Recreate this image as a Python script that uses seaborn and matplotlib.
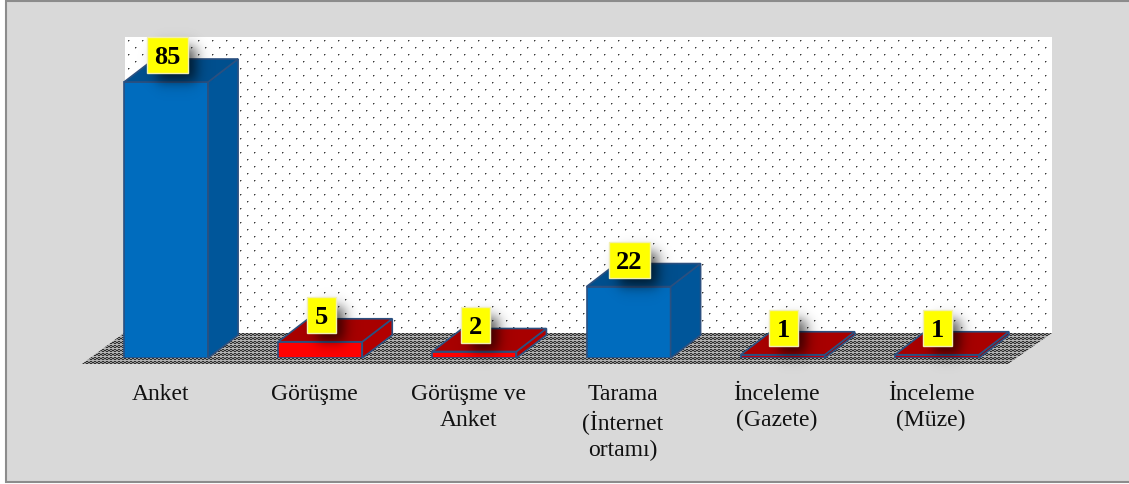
import numpy as np
import seaborn as sns
import matplotlib
matplotlib.use("Agg")
import matplotlib.pyplot as plt
from matplotlib.patches import Polygon, Rectangle
from matplotlib.transforms import ScaledTranslation

categories = ["Anket", "Görüşme", "Görüşme ve\nAnket", "Tarama\n(İnternet\nortamı)",
              "İnceleme\n(Gazete)", "İnceleme\n(Müze)"]
values = [85, 5, 2, 22, 1, 1]
front_colors = ["#006CBE", "#FF0000", "#FF0000", "#006CBE", "#C00010", "#C00010"]
side_colors = ["#00569A", "#B30000", "#B30000", "#00569A", "#A00000", "#A00000"]
top_colors = ["#004F8E", "#A80000", "#A80000", "#004F8E", "#A80000", "#A80000"]
edge_color = "#2B5080"

W, H = 1129, 484
DX, DY = 30, 23

sns.set_theme(style="white")
plt.rcParams["font.family"] = ["Liberation Serif", "DejaVu Serif"]

fig = plt.figure(figsize=(W / 100, H / 100), dpi=100, facecolor="white")

# pixel axes for frame, wall and floor
bg = fig.add_axes([0, 0, 1, 1], zorder=0)
bg.set_xlim(0, W)
bg.set_ylim(H, 0)
bg.axis("off")
bg.add_patch(Rectangle((5.5, 0.5), W, 481.5, fc="#D9D9D9", ec="#8C8C8C", lw=1.5))

# dotted wall texture
wall_x = (125, 1052)
wall_y = (37, 333)
yy, xx = np.mgrid[0:wall_y[1] - wall_y[0], 0:wall_x[1] - wall_x[0]]
row = yy // 7
on_dot = (yy % 7 == 3) & ((xx + row * 7) % 14 == 3)
soft = (yy % 7 == 3) & ((xx + row * 7) % 14 == 4) | (yy % 7 == 4) & ((xx + row * 7) % 14 == 3)
wall = np.ones(xx.shape)
wall[soft] = 0.65
wall[on_dot] = 0.22
bg.imshow(wall, cmap="gray", vmin=0, vmax=1, interpolation="nearest", aspect="auto",
          extent=(wall_x[0], wall_x[1], wall_y[1], wall_y[0]), zorder=1)

# woven floor texture
floor_pts = [(82, 364), (124, 333), (1052, 333), (1008, 364)]
yy, xx = np.mgrid[0:31, 0:970]
floor = np.where((xx + 2 * yy) % 4 < 2, 0.18, 0.6)
floor[yy % 4 == 3] = 0.7
img = bg.imshow(floor, cmap="gray", vmin=0, vmax=1, interpolation="nearest", aspect="auto",
                extent=(82, 1052, 364, 333), zorder=1)
clip = Polygon(floor_pts, transform=bg.transData, fc="none", ec="none")
bg.add_patch(clip)
img.set_clip_path(clip)
bg.set_xlim(0, W)
bg.set_ylim(H, 0)

# front faces
ax = fig.add_axes([89 / W, (H - 358) / H, 925 / W, 321 / H], zorder=1)
ax.patch.set_alpha(0)
sns.barplot(x=categories, y=values, hue=categories, palette=front_colors, width=0.545,
            saturation=1, dodge=False, legend=False, edgecolor=edge_color, linewidth=1.2, ax=ax)
ax.set_xlim(-0.5, 5.5)
ax.set_ylim(0, 321 * 85 / 276)
ax.set_yticks([])
sns.despine(ax=ax, left=True, bottom=True)
ax.tick_params(axis="x", length=0, pad=19)
for lab in ax.get_xticklabels():
    lab.set_fontsize(17)
    lab.set_linespacing(1.3)
    lab.set_color("#111111")
    lab.set_transform(lab.get_transform() + ScaledTranslation(-6 / 100, 0, fig.dpi_scale_trans))

# pixel axes for the 3d faces and the value boxes
ov = fig.add_axes([0, 0, 1, 1], zorder=2)
ov.set_xlim(0, W)
ov.set_ylim(H, 0)
ov.axis("off")
to_px = ax.transData + ov.transData.inverted()

bars = sorted(ax.patches, key=lambda p: p.get_x())
for i, bar in enumerate(bars):
    (l, b), (r, t) = to_px.transform([(bar.get_x(), 0),
                                      (bar.get_x() + bar.get_width(), values[i])])
    ov.add_patch(Polygon([(r, b), (r + DX, b - DY), (r + DX, t - DY), (r, t)],
                         fc=side_colors[i], ec=edge_color, lw=1.2, zorder=2))
    ov.add_patch(Polygon([(l, t), (l + DX, t - DY), (r + DX, t - DY), (r, t)],
                         fc=top_colors[i], ec=edge_color, lw=1.2, zorder=2))

    # value box with soft shadow
    w = 41 if values[i] > 9 else 29
    cx, cy = (l + r) / 2 + 1, t - 26.5
    x0, x1, y0, y1 = cx - w / 2, cx + w / 2, cy - 18, cy + 18
    gx = np.linspace(x0 - 10, x1 + 35, 80)
    gy = np.linspace(y0 - 10, y1 + 35, 80)
    ax_x = 1 / (1 + np.exp((x0 + 10 - gx) / 4)) * 1 / (1 + np.exp((gx - x1 - 8) / 4))
    ax_y = 1 / (1 + np.exp((y0 + 10 - gy) / 4)) * 1 / (1 + np.exp((gy - y1 - 8) / 4))
    rgba = np.zeros((80, 80, 4))
    rgba[..., 3] = 0.7 * np.outer(ax_y, ax_x)
    ov.imshow(rgba, extent=(gx[0], gx[-1], gy[-1], gy[0]), interpolation="bilinear",
              aspect="auto", zorder=3)
    ov.add_patch(Rectangle((x0, y0), w, 36, fc="#FFFF00", ec="#F2EFB0", lw=1, zorder=4))
    ov.text(cx, cy, str(values[i]), ha="center", va="center_baseline", fontsize=19,
            fontweight="bold", color="black", zorder=5)
ov.set_xlim(0, W)
ov.set_ylim(H, 0)

fig.savefig("out.png", dpi=100)
